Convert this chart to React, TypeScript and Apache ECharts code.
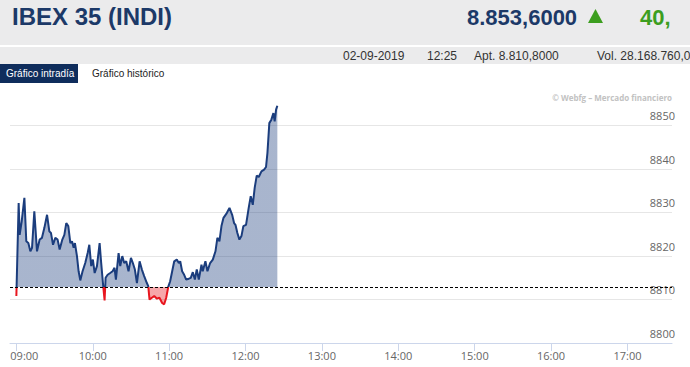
import { useEffect, useRef } from 'react';
import * as echarts from 'echarts';

const TITLE = 'IBEX 35 (INDI)';
const LAST_PRICE = '8.853,6000';
const CHANGE = '40,';
const SESSION_DATE = '02-09-2019';
const SESSION_TIME = '12:25';
const OPEN_TEXT = 'Apt. 8.810,8000';
const VOLUME_TEXT = 'Vol. 28.168.760,0';
const TAB_ACTIVE = 'Gráfico intradía';
const TAB_OTHER = 'Gráfico histórico';
const CREDIT = '© Webfg – Mercado financiero';

const PREV_CLOSE = 8812.9;
// minutes after 09:00 for each hour tick (09:00 ... 17:00)
const HOUR_TICKS = [0, 60, 120, 180, 240, 300, 360, 420, 480];

// minutes after 09:00
const MINUTES = [
  0, 1.8, 2.6, 4.2, 6.3, 7.8, 9.4, 11.0, 12.3, 14.1,
  16.2, 18.3, 20.1, 22.0, 24.1, 25.9, 27.2, 28.8, 30.6, 32.4,
  34.0, 36.1, 37.7, 39.2, 40.8, 42.4, 43.7, 45.0, 46.0, 47.6,
  48.9, 50.2, 52.0, 54.1, 56.0, 57.3, 58.8, 60.1, 61.5, 63.3,
  65.4, 66.4, 68.0, 69.3, 70.1, 71.7, 73.7, 75.6, 77.1, 78.2,
  80.3, 81.6, 83.2, 84.7, 86.3, 88.1, 90.0, 91.5, 93.1, 94.7,
  96.8, 98.6, 100.4, 102.5, 103.6, 104.6, 106.4, 108.3, 110.4, 112.4,
  114.5, 116.1, 117.7, 119.3, 120.8, 122.4, 124.0, 126.0, 127.6, 128.7,
  130.2, 131.8, 133.4, 135.5, 137.0, 138.6, 140.2, 141.7, 143.3, 145.4,
  146.4, 148.5, 150.1, 152.2, 154.3, 156.4, 157.9, 159.5, 161.1, 162.7,
  165.3, 167.4, 169.5, 171.0, 172.1, 173.6, 175.2, 176.8, 178.3, 180.4,
  182.5, 184.1, 185.7, 187.2, 188.8, 190.4, 192.5, 194.6, 196.1, 197.2,
  198.7, 200.3, 201.9, 202.9, 204.0, 205.0,
];

const PRICES = [
  8810.8, 8832.2, 8824.9, 8828.0, 8833.4, 8823.4, 8823.0, 8821.1, 8821.9, 8830.3,
  8821.1, 8823.8, 8824.2, 8826.5, 8829.5, 8825.7, 8825.3, 8822.6, 8824.2, 8823.8,
  8821.5, 8823.8, 8824.9, 8827.6, 8826.9, 8823.0, 8823.4, 8821.9, 8823.0, 8820.0,
  8816.5, 8814.4, 8816.5, 8818.4, 8820.7, 8822.6, 8817.7, 8819.2, 8816.1, 8817.7,
  8823.0, 8819.2, 8813.8, 8809.8, 8815.0, 8815.7, 8816.1, 8816.5, 8817.3, 8814.6,
  8820.7, 8817.7, 8820.0, 8818.4, 8818.8, 8816.5, 8819.6, 8818.4, 8816.9, 8813.8,
  8818.8, 8816.9, 8815.4, 8813.8, 8813.1, 8810.0, 8810.4, 8810.8, 8810.2, 8810.4,
  8809.2, 8808.9, 8810.4, 8812.9, 8814.2, 8816.5, 8818.8, 8819.2, 8818.4, 8818.8,
  8816.5, 8815.7, 8814.6, 8814.8, 8815.0, 8816.3, 8814.6, 8816.9, 8814.6, 8818.0,
  8816.5, 8818.8, 8816.5, 8818.4, 8819.2, 8821.1, 8824.2, 8823.4, 8826.9, 8828.8,
  8829.9, 8831.1, 8829.5, 8827.6, 8827.2, 8825.3, 8823.8, 8824.6, 8826.9, 8827.2,
  8831.1, 8833.8, 8831.8, 8835.7, 8838.5, 8838.2, 8839.5, 8839.9, 8840.5, 8843.7,
  8850.6, 8851.4, 8852.9, 8851.0, 8853.7, 8854.6,
];

const NAVY = '#1b3d7d';
const RED = '#e8161f';
const GREEN = '#3c9e1f';

function fmtTime(m: number) {
  const total = 9 * 60 + m;
  const h = Math.floor(total / 60);
  const mm = Math.round(total % 60);
  return String(h).padStart(2, '0') + ':' + String(mm).padStart(2, '0');
}

export default function App() {
  const ref = useRef<HTMLDivElement>(null);

  useEffect(() => {
    if (!ref.current) return;
    const chart = echarts.init(ref.current, undefined, { renderer: 'svg' });
    const data = MINUTES.map((t, i) => [t, PRICES[i]]);
    const headerFont = '"Liberation Sans", Arial, sans-serif';

    chart.setOption({
      animation: false,
      textStyle: { fontFamily: '"Open Sans", sans-serif' },
      grid: {
        left: 10,
        right: 18,
        top: 104,
        bottom: 24,
        containLabel: false,
        outerBoundsMode: 'none',
      },
      xAxis: {
        type: 'value',
        min: -5,
        max: 515,
        axisLine: { show: true, lineStyle: { color: '#ccd6eb', width: 1 } },
        axisTick: {
          show: true,
          customValues: HOUR_TICKS,
          length: 8,
          lineStyle: { color: '#ccd6eb' },
        },
        axisLabel: {
          customValues: HOUR_TICKS,
          formatter: (v: number) =>
            v === HOUR_TICKS[0] ? '{first|' + fmtTime(v) + '}' : fmtTime(v),
          color: '#666666',
          fontSize: 11,
          margin: 7,
          rich: {
            first: { color: '#666666', fontSize: 11, padding: [0, 0, 0, 16] },
          },
        },
        splitLine: { show: false },
      },
      yAxis: {
        type: 'value',
        position: 'right',
        min: 8800,
        max: 8855,
        interval: 10,
        axisLine: { show: false },
        axisTick: { show: false },
        axisLabel: {
          inside: true,
          margin: -3,
          verticalAlign: 'bottom',
          lineHeight: 14,
          padding: [0, 0, 3, 0],
          color: '#666666',
          fontSize: 11,
          showMaxLabel: false,
          formatter: (v: number) => String(Math.round(v)),
        },
        splitLine: {
          show: true,
          showMaxLine: false,
          showMinLine: false,
          lineStyle: { color: '#e6e6e6', width: 1 },
        },
      },
      visualMap: {
        show: false,
        type: 'piecewise',
        seriesIndex: 0,
        dimension: 1,
        pieces: [
          { gte: 8700, lt: PREV_CLOSE, color: RED },
          { gte: PREV_CLOSE, lte: 8900, color: NAVY },
        ],
      },
      series: [
        {
          type: 'line',
          data,
          symbol: 'none',
          showSymbol: false,
          lineStyle: { width: 2 },
          areaStyle: { origin: PREV_CLOSE, opacity: 0.38 },
          markLine: {
            silent: true,
            symbol: 'none',
            label: { show: false },
            lineStyle: { type: [3, 2], color: '#000000', width: 1 },
            data: [{ yAxis: PREV_CLOSE }],
          },
          z: 3,
        },
      ],
      graphic: [
        { type: 'rect', shape: { x: 0, y: 0, width: 690, height: 45 }, style: { fill: '#ebebec' } },
        { type: 'rect', shape: { x: 0, y: 47, width: 690, height: 17 }, style: { fill: '#ebebec' } },
        {
          type: 'text', x: 12, y: 16,
          style: { text: TITLE, fill: '#1c3968', font: `bold 24px ${headerFont}`, verticalAlign: 'middle' },
        },
        {
          type: 'text', x: 467, y: 17,
          style: { text: LAST_PRICE, fill: '#1c3968', font: `bold 22px ${headerFont}`, verticalAlign: 'middle' },
        },
        {
          type: 'polygon',
          shape: { points: [[588, 23], [603, 23], [595.5, 9]] },
          style: { fill: GREEN },
        },
        {
          type: 'text', x: 640, y: 17,
          style: { text: CHANGE, fill: GREEN, font: `bold 22px ${headerFont}`, verticalAlign: 'middle' },
        },
        { type: 'text', x: 343, y: 56, style: { text: SESSION_DATE, fill: '#333333', font: `12px ${headerFont}`, verticalAlign: 'middle' } },
        { type: 'text', x: 427, y: 56, style: { text: SESSION_TIME, fill: '#333333', font: `12px ${headerFont}`, verticalAlign: 'middle' } },
        { type: 'text', x: 474, y: 56, style: { text: OPEN_TEXT, fill: '#333333', font: `12px ${headerFont}`, verticalAlign: 'middle' } },
        { type: 'text', x: 597, y: 56, style: { text: VOLUME_TEXT, fill: '#333333', font: `12px ${headerFont}`, verticalAlign: 'middle' } },
        { type: 'rect', shape: { x: 0, y: 64, width: 78, height: 19 }, style: { fill: '#0f2d5c' } },
        { type: 'text', x: 6, y: 73.5, style: { text: TAB_ACTIVE, fill: '#ffffff', font: `10px ${headerFont}`, verticalAlign: 'middle' } },
        { type: 'text', x: 92, y: 73.5, style: { text: TAB_OTHER, fill: '#222222', font: `10px ${headerFont}`, verticalAlign: 'middle' } },
        {
          type: 'text', x: 672, y: 97,
          style: { text: CREDIT, fill: '#c2c2c2', font: `bold 8px "Open Sans", sans-serif`, align: 'right', verticalAlign: 'middle' },
        },
      ],
    });

    return () => chart.dispose();
  }, []);

  return (
    <div
      ref={ref}
      style={{ position: 'absolute', left: 0, top: 0, width: 690, height: 367, background: '#ffffff' }}
    />
  );
}
